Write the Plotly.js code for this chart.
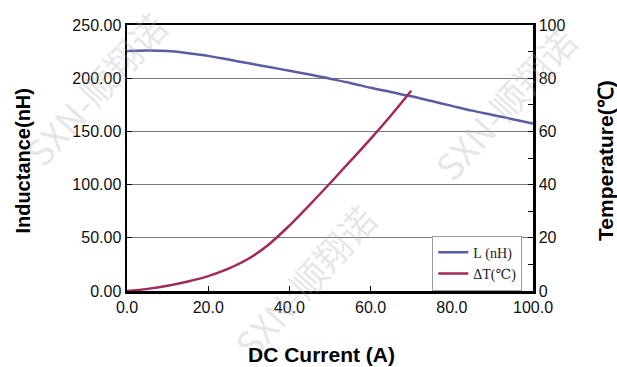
<!DOCTYPE html>
<html>
<head>
<meta charset="utf-8">
<script src="https://cdn.plot.ly/plotly-3.0.1.min.js"></script>
<style>html,body{margin:0;padding:0;background:#fff;}#chart{width:617px;height:367px;}</style>
</head>
<body>
<div id="chart"></div>
<script>
// DC current (A) for the inductance curve
const currentL = [0, 5, 10, 15, 20, 25, 30, 35, 40, 45, 50, 55, 60, 65, 70, 75, 80, 85, 90, 95, 100];
// Inductance (nH)
const inductance = [225.5, 226, 225.5, 223.5, 221, 217.5, 214, 210.5, 207, 203.5, 199.5, 195.5, 191, 187, 183, 178.5, 174, 169.5, 165.5, 161.5, 157.5];
// DC current (A) for the temperature rise curve
const currentT = [0, 5, 10, 15, 20, 25, 30, 35, 40, 45, 50, 55, 60, 65, 70];
// Temperature rise (℃)
const tempRise = [0, 0.8, 2.0, 3.6, 5.6, 8.4, 12.2, 17.6, 24.6, 32.4, 40.5, 48.8, 57.2, 66.0, 75.3];

const seriesNames = ['L\u00a0(nH)', '\u0394T(\u2103)'];
const xTicks = [0, 20, 40, 60, 80, 100];
const yTicks = [0, 50, 100, 150, 200, 250];
const y2Ticks = [0, 20, 40, 60, 80, 100];

const sans = 'Liberation Sans, Arial, sans-serif';

const traces = [
  {x: currentL, y: inductance, name: seriesNames[0], type: 'scatter', mode: 'lines',
   line: {color: '#5a5ca4', width: 2.5, shape: 'spline'}, yaxis: 'y'},
  {x: currentT, y: tempRise, name: seriesNames[1], type: 'scatter', mode: 'lines',
   line: {color: '#a2295c', width: 2.5, shape: 'spline'}, yaxis: 'y2'}
];

const wmFont = {family: 'Noto Sans CJK SC, sans-serif', size: 36, color: 'rgba(170,170,170,0.3)'};
const titleFont = {family: sans, size: 21, color: '#000', weight: 'bold'};

const layout = {
  width: 617, height: 367,
  margin: {l: 127, r: 84, t: 25, b: 76},
  paper_bgcolor: '#ffffff', plot_bgcolor: '#ffffff',
  showlegend: true,
  legend: {x: 0.752, y: 0.208, xanchor: 'left', yanchor: 'top',
    bgcolor: '#ffffff', bordercolor: '#9a9ab0', borderwidth: 1,
    font: {family: 'Liberation Serif, DejaVu Serif, serif', size: 14, color: '#222'},
    tracegroupgap: 0, itemwidth: 30},
  xaxis: {range: [0, 100], tickvals: xTicks, ticktext: xTicks.map(v => v.toFixed(1)),
    showline: true, linecolor: '#000', linewidth: 2.5, mirror: true,
    ticks: 'inside', ticklen: 5, tickcolor: '#000', showgrid: false, zeroline: false,
    tickfont: {family: sans, size: 16, color: '#111'}},
  yaxis: {range: [0, 250], tickvals: yTicks, ticktext: yTicks.map(v => v.toFixed(2)),
    showline: true, linecolor: '#000', linewidth: 2.5, mirror: true,
    ticks: 'inside', ticklen: 5, tickcolor: '#000',
    showgrid: true, gridcolor: '#7a7a7a', gridwidth: 1.3, zeroline: false,
    tickfont: {family: sans, size: 16, color: '#111'}},
  yaxis2: {range: [0, 100], tickvals: y2Ticks, ticktext: y2Ticks.map(v => String(v)),
    overlaying: 'y', side: 'right', showline: true, linecolor: '#000', linewidth: 2.5,
    ticks: 'inside', ticklen: 5, tickcolor: '#000', showgrid: false, zeroline: false,
    minor: {dtick: 10, ticks: 'inside', ticklen: 5, tickcolor: '#000', showgrid: false},
    tickfont: {family: sans, size: 16, color: '#111'}},
  annotations: [
    {text: 'SXN-\u987a\u7fd4\u8bfa', xref: 'paper', yref: 'paper', x: 0.438, y: 0.04,
     xanchor: 'center', yanchor: 'middle', textangle: -48, showarrow: false, font: wmFont},
    {text: 'SXN-\u987a\u7fd4\u8bfa', xref: 'paper', yref: 'paper', x: 0.931, y: 0.71,
     xanchor: 'center', yanchor: 'middle', textangle: -48, showarrow: false, font: wmFont},
    {text: 'SXN-\u987a\u7fd4\u8bfa', xref: 'paper', yref: 'paper', x: -0.079, y: 0.765,
     xanchor: 'center', yanchor: 'middle', textangle: -48, showarrow: false, font: wmFont},
    {text: 'DC Current (A)', xref: 'paper', yref: 'paper', x: 0.478, y: -0.237,
     xanchor: 'center', yanchor: 'middle', showarrow: false, font: titleFont},
    {text: 'Inductance(nH)', xref: 'paper', yref: 'paper', x: -0.255, y: 0.492,
     xanchor: 'center', yanchor: 'middle', textangle: -90, showarrow: false,
     font: {family: sans, size: 20, color: '#000', weight: 'bold'}},
    {text: 'Temperature(\u2103)', xref: 'paper', yref: 'paper', x: 1.177, y: 0.492,
     xanchor: 'center', yanchor: 'middle', textangle: -90, showarrow: false, font: titleFont}
  ]
};

Plotly.newPlot('chart', traces, layout, {displayModeBar: false, staticPlot: true});
</script>
</body>
</html>
